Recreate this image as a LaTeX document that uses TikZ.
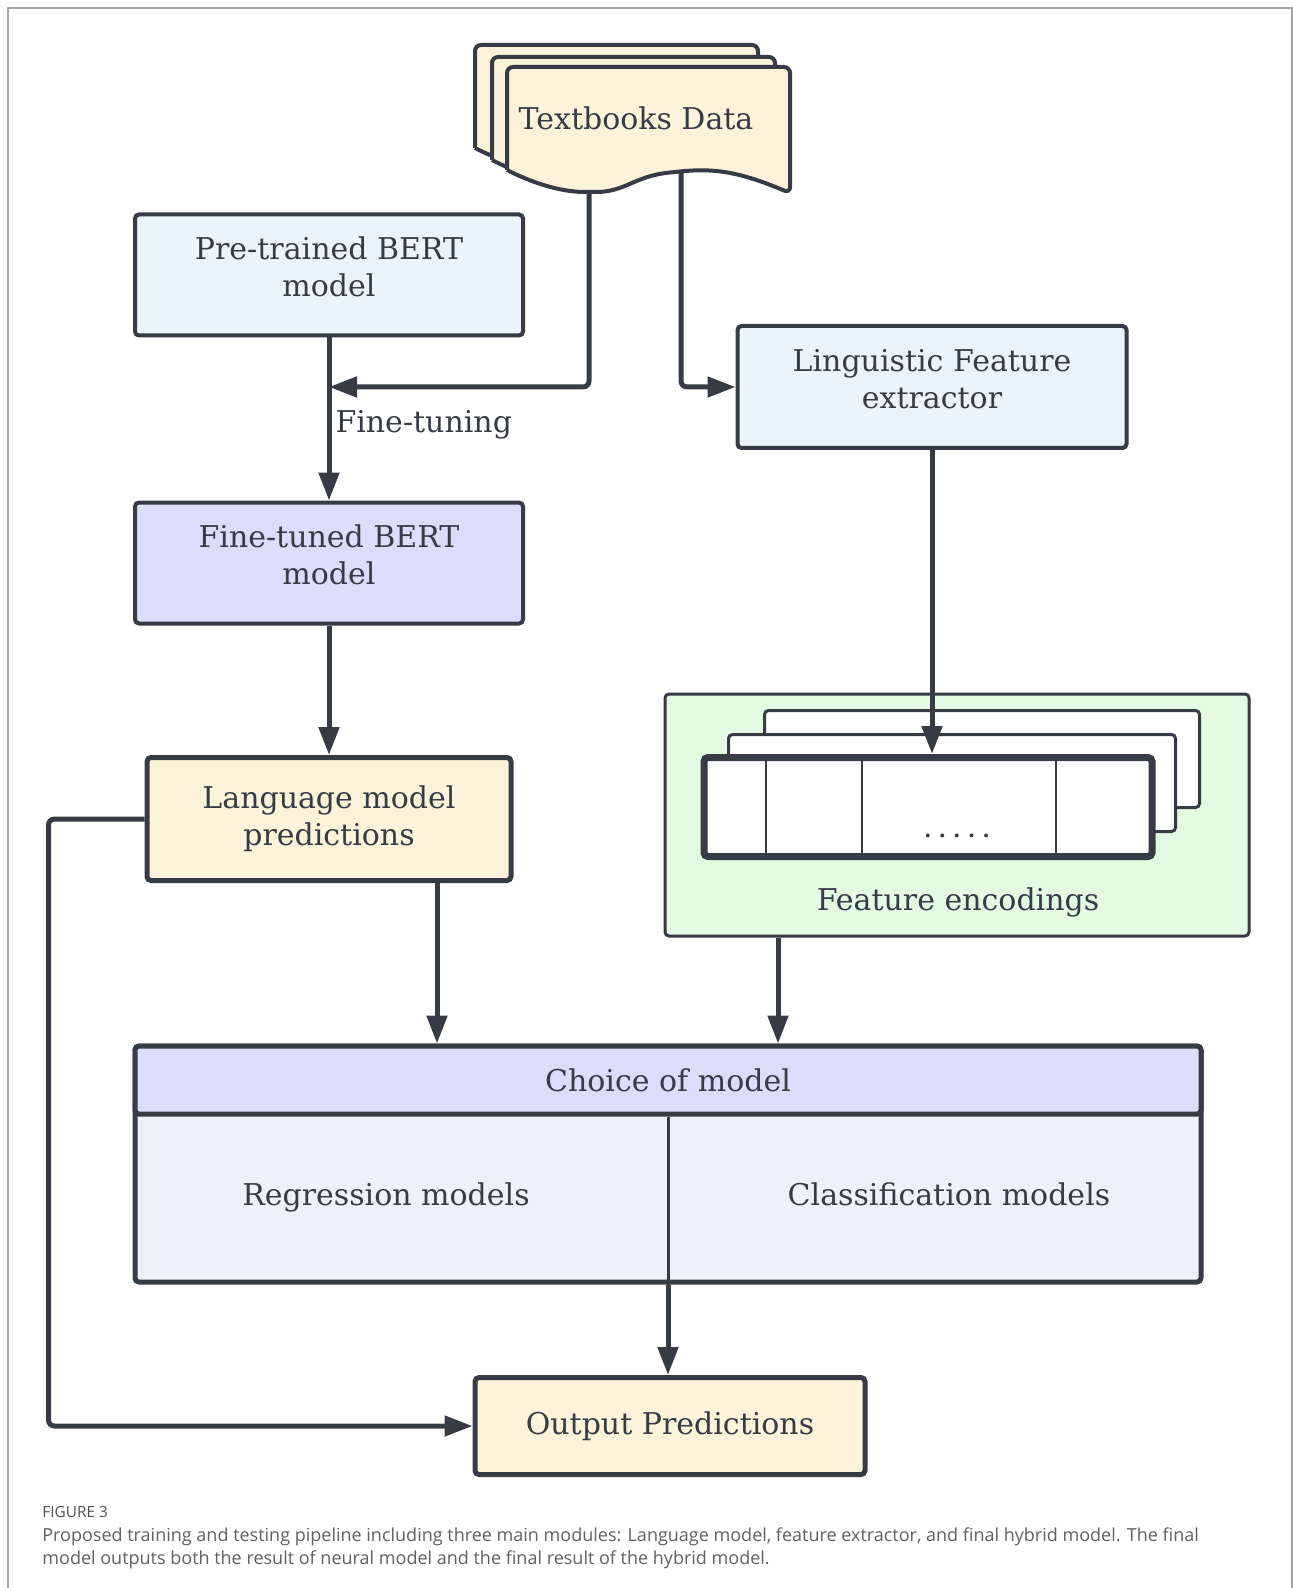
\documentclass[tikz,border=0pt]{standalone}
\usepackage{fontspec}
\setmainfont{DejaVu Serif}
\newfontfamily\capfont{Open Sans}
\usetikzlibrary{arrows.meta,calc}
\definecolor{lc}{HTML}{363B45}
\definecolor{cream}{HTML}{FDF3DA}
\definecolor{skyc}{HTML}{EBF3FD}
\definecolor{lav}{HTML}{DCDCFB}
\definecolor{bodyc}{HTML}{F0F0FD}
\definecolor{mint}{HTML}{E3FAE3}
\definecolor{capc}{HTML}{606060}
\begin{document}
\begin{tikzpicture}[x=0.5pt, y=-0.5pt, text=lc,
    lbl/.style = {font=\fontsize{15}{18.5}\selectfont, align=center},
    box/.style = {draw=lc, line width=2pt, rounded corners=2pt, lbl, inner sep=0pt},
    txt/.style = {label={[lbl, yshift=4pt, text=lc]center:#1}},
    sheet/.style = {draw=lc, line width=2pt, fill=cream, rounded corners=3pt},
    conn/.style = {draw=lc, line width=2.5pt, rounded corners=3pt, -{Triangle[length=14pt, width=10pt]}}]
    \useasboundingbox (0,0) rectangle (1293,1588);
    \draw[gray!70, line width=0.8pt] (8,1588) -- (8,8) -- (1292,8) -- (1292,1588);
    % textbooks stack
    \foreach \dx/\dy in {-32/-22, -15/-10, 0/0}
        \draw[sheet, shift={(\dx,\dy)}] (507,170) -- (507,67) -- (790,67) -- (790,193)
            .. controls (740,172) and (715,168) .. (675,172)
            .. controls (635,176) and (625,192) .. (590,192)
            .. controls (560,192) and (530,182) .. (507,170);
    \node[lbl] (doc) at (636,118) {Textbooks Data};
    \coordinate (d1) at (589,191);
    \coordinate (d2) at (681,173);
    % boxes
    \node[box, fill=skyc, minimum width=194pt, minimum height=60.5pt, txt={Pre-trained BERT\\model}] (pre) at (329,275) {};
    \node[box, fill=lav, minimum width=194pt, minimum height=60.5pt, txt={Fine-tuned BERT\\model}] (fine) at (329,563) {};
    \node[box, fill=cream, line width=2.5pt, minimum width=182pt, minimum height=61.5pt] (lm) at (329,819) {Language model\\predictions};
    \node[box, fill=skyc, minimum width=194.5pt, minimum height=61pt, txt={Linguistic Feature\\extractor}] (ling) at (932,387) {};
    % feature encodings
    \node[box, fill=mint, line width=1.5pt, minimum width=292pt, minimum height=121pt] (fenc) at (957,815) {};
    \node[box, fill=white, line width=1.5pt, minimum width=217.5pt, minimum height=48.5pt] (fb) at (982,759) {};
    \node[box, fill=white, line width=1.5pt, minimum width=223.5pt, minimum height=48.5pt] (fm) at (952,783) {};
    \node[box, fill=white, line width=3.5pt, minimum width=224pt, minimum height=49.5pt] (ff) at (928,807) {};
    \foreach \x in {766, 862, 1056}
        \draw[lc, line width=0.8pt] (\x,761) -- (\x,854);
    \node[lbl] (dots) at (957,836) {.\,.\,.\,.\,.};
    \node[lbl] (fenclab) at (958,902) {Feature encodings};
    % choice of model
    \node[box, fill=bodyc, line width=2.5pt, minimum width=533pt, minimum height=118pt] (cho) at (668,1164) {};
    \node[box, fill=lav, line width=2.5pt, minimum width=533pt, minimum height=34pt] (head) at (668,1080) {Choice of model};
    \draw[lc, line width=1.5pt] (head.south) -- (cho.south);
    \node[lbl, anchor=base] (reg) at (386,1205) {Regression models};
    \node[lbl, anchor=base] (cls) at (949,1205) {Classification models};
    \node[box, fill=cream, line width=2.5pt, minimum width=195pt, minimum height=48.5pt] (out) at (670,1426) {Output Predictions};
    % connectors
    \draw[conn] (d1) |- (pre.south |- ling.west);
    \draw[conn] (d2) |- (ling.west);
    \draw[conn] (pre) -- node[lbl, right, pos=0.5, inner sep=2pt, yshift=-3pt] {Fine-tuning} (fine);
    \draw[conn] (fine) -- (lm);
    \draw[conn] (ling.south) -- (ling.south |- ff.north);
    \coordinate (a1) at ($(lm.south)+(108,0)$);
    \coordinate (a2) at ($(fenc.south)+(-179,0)$);
    \draw[conn] (a1) -- (a1 |- head.north);
    \draw[conn] (a2) -- (a2 |- head.north);
    \draw[conn] (cho.south) -- (cho.south |- out.north);
    \draw[conn] (lm.west) -- ++(-96,0) |- (out.west);
    % caption
    \node[anchor=west, font=\capfont\fontsize{7.7}{9}\selectfont, text=capc!85!black, inner sep=0pt] (fig) at (42,1512) {FIGURE 3};
    \node[anchor=north west, align=left, font=\capfont\fontsize{9}{11.6}\selectfont, text=capc, inner sep=0pt] (cap) at (42,1527)
        {Proposed training and testing pipeline including three main modules: Language model, feature extractor, and final hybrid model. The final\\
         model outputs both the result of neural model and the final result of the hybrid model.};
\end{tikzpicture}
\end{document}
